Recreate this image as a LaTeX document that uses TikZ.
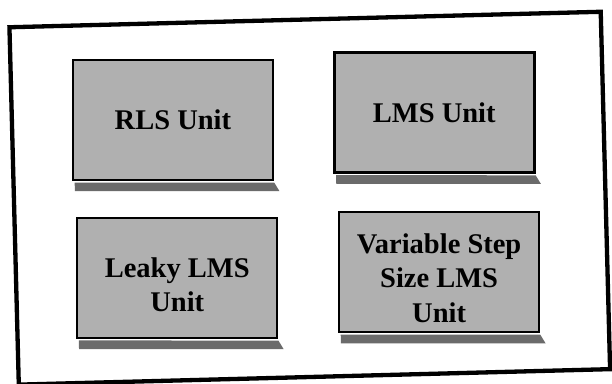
\documentclass[tikz,border=0pt]{standalone}
\usepackage{fontspec}
\setmainfont{Liberation Serif}
\begin{document}
\begin{tikzpicture}[x=1pt,y=1pt,
  unitbox/.style={draw=black, line width=2.6pt, fill=black!31,
    minimum width=200pt, minimum height=120pt, inner sep=0pt},
  unittext/.style={font=\fontsize{28.5}{34.5}\selectfont\bfseries,
    align=center, text=black, inner sep=0pt},
  shadowstrip/.style={fill=black!58, draw=none},
  outerframe/.style={draw=black, line width=4.3pt}]
\useasboundingbox (0,0) rectangle (612,383);
\fill[white] (0,0) rectangle (612,383);
% the whole sheet sits slightly tilted
\begin{scope}[shift={(308,185)}, rotate=1.5]
  \draw[outerframe] (-294,-179) rectangle (297.5,178.5);

  \node[unitbox] (rls)   at (-133, 81.5) {};
  \node[unitbox] (lms)   at (128.5, 82)  {};
  \node[unitbox] (leaky) at (-133,-76.5) {};
  \node[unitbox] (vss)   at (129,-77.5)  {};

  \node[unittext] (rlstxt)   at (rls.center)   {RLS Unit};
  \node[unittext] (lmstxt)   at (lms.center)   {LMS Unit};
  \node[unittext] (leakytxt) at ([yshift=-7]leaky.center) {Leaky LMS\\Unit};
  \node[unittext] (vsstxt)   at ([yshift=-6]vss.center)   {Variable Step\\Size LMS\\Unit};

  % drop shadows under each unit
  \foreach \b in {rls,lms,leaky,vss}{
    \fill[shadowstrip] ([shift={(3,-1.3)}]\b.south west) -- ([shift={(0,-1.3)}]\b.south east)
      -- ([shift={(5,-10)}]\b.south east) -- ([shift={(3,-10)}]\b.south west) -- cycle;
  }
\end{scope}
\end{tikzpicture}
\end{document}
